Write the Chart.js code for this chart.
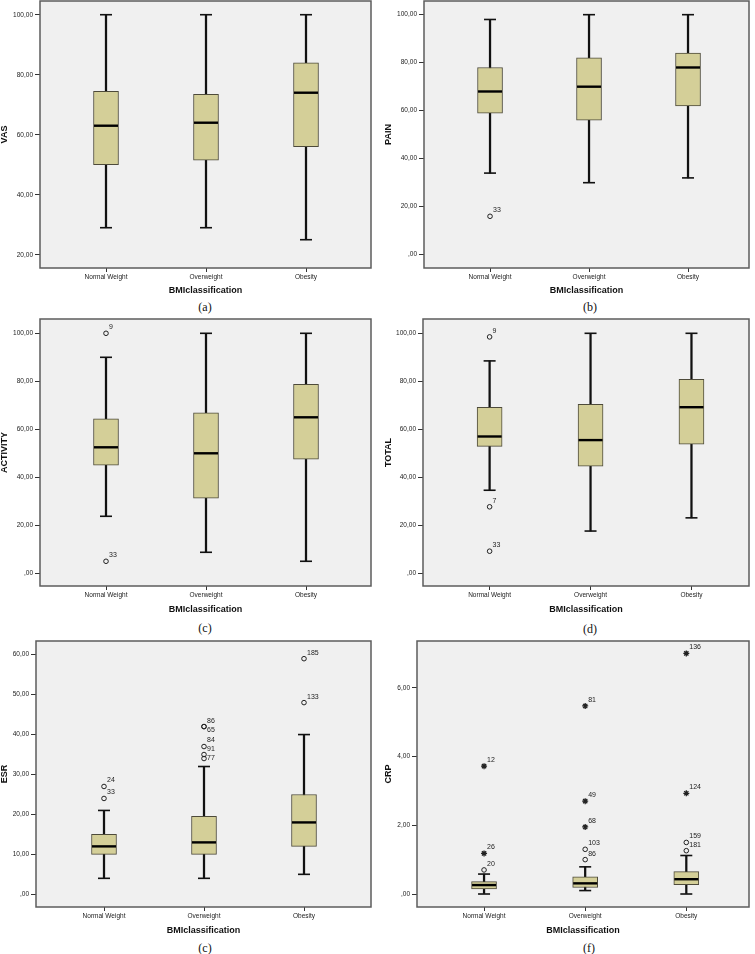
<!DOCTYPE html>
<html>
<head>
<meta charset="utf-8">
<script src="https://cdn.jsdelivr.net/npm/chart.js@4.4.1/dist/chart.umd.min.js"></script>
<style>
  body { margin: 0; background: #fff; width: 755px; height: 954px; position: relative; overflow: hidden; }
  canvas { position: absolute; }
  .cap { position: absolute; width: 60px; margin-left: -30px; text-align: center; font: 12px "Liberation Serif", serif; color: #111; line-height: 12px; margin-top: -6px; }
</style>
</head>
<body>
<script>
const categories = ['Normal Weight', 'Overweight', 'Obesity'];

// VAS
const vasLow = [29, 29, 25];
const vasQ1 = [50, 51.5, 56];
const vasMed = [63, 64, 74];
const vasQ3 = [74.5, 73.5, 84];
const vasHigh = [100, 100, 100];
const vasOutliers = [];
const vasTicks = [20, 40, 60, 80, 100];

// PAIN
const painLow = [34, 30, 32];
const painQ1 = [59, 56, 62];
const painMed = [68, 70, 78];
const painQ3 = [78, 82, 84];
const painHigh = [98, 100, 100];
const painOutliers = [[0, 16, '33', 'o']];
const painTicks = [0, 20, 40, 60, 80, 100];

// ACTIVITY
const actLow = [23.75, 8.75, 5];
const actQ1 = [45, 31.25, 47.5];
const actMed = [52.5, 50, 65];
const actQ3 = [64.4, 66.9, 78.75];
const actHigh = [90, 100, 100];
const actOutliers = [[0, 100, '9', 'o'], [0, 5, '33', 'o']];
const actTicks = [0, 20, 40, 60, 80, 100];

// TOTAL
const totLow = [34.6, 17.6, 23.1];
const totQ1 = [52.9, 44.6, 53.8];
const totMed = [57, 55.5, 69.2];
const totQ3 = [69.2, 70.4, 80.8];
const totHigh = [88.5, 100, 100];
const totOutliers = [[0, 98.5, '9', 'o'], [0, 27.7, '7', 'o'], [0, 9.2, '33', 'o']];
const totTicks = [0, 20, 40, 60, 80, 100];

// ESR
const esrLow = [4, 4, 5];
const esrQ1 = [10, 10, 12];
const esrMed = [12, 13, 18];
const esrQ3 = [15, 19.5, 25];
const esrHigh = [21, 32, 40];
const esrOutliers = [[0, 27, '24', 'o'], [0, 24, '33', 'o'], [1, 42, '86', 'o'], [1, 42, '65', 'o'],
    [1, 37, '84', 'o'], [1, 35, '91', 'o'], [1, 34, '77', 'o'], [2, 59, '185', 'o'], [2, 48, '133', 'o']];
const esrTicks = [0, 10, 20, 30, 40, 50, 60];

// CRP
const crpLow = [0, 0.1, 0];
const crpQ1 = [0.15, 0.19, 0.27];
const crpMed = [0.26, 0.31, 0.43];
const crpQ3 = [0.36, 0.5, 0.65];
const crpHigh = [0.58, 0.79, 1.12];
const crpOutliers = [[0, 3.72, '12', '*'], [0, 1.18, '26', '*'], [0, 0.7, '20', 'o'],
    [1, 5.47, '81', '*'], [1, 2.7, '49', '*'], [1, 1.95, '68', '*'], [1, 1.3, '103', 'o'], [1, 1.0, '86', 'o'],
    [2, 7.0, '136', '*'], [2, 2.93, '124', '*'], [2, 1.5, '159', 'o'], [2, 1.26, '181', 'o']];
const crpTicks = [0, 2, 4, 6];

// Panel yerleşimi (sayfa pikselleri)
const panels = [
    { title: 'VAS', caption: '(a)', low: vasLow, q1: vasQ1, med: vasMed, q3: vasQ3, high: vasHigh, outliers: vasOutliers, ticks: vasTicks,
      frame: [40, 1, 371, 268], yRange: [15.57, 104.57], xRange: [-0.66, 2.65], yTitleX: 5, xTitleY: 291, capPos: [205, 307] },
    { title: 'PAIN', caption: '(b)', low: painLow, q1: painQ1, med: painMed, q3: painQ3, high: painHigh, outliers: painOutliers, ticks: painTicks,
      frame: [424, 1, 749, 268], yRange: [-5.54, 105.7], xRange: [-0.667, 2.616], yTitleX: 389, xTitleY: 291, capPos: [590, 307] },
    { title: 'ACTIVITY', caption: '(c)', low: actLow, q1: actQ1, med: actMed, q3: actQ3, high: actHigh, outliers: actOutliers, ticks: actTicks,
      frame: [40, 319, 371, 586], yRange: [-5.3, 105.96], xRange: [-0.66, 2.65], yTitleX: 5, xTitleY: 610, capPos: [205, 628] },
    { title: 'TOTAL', caption: '(d)', low: totLow, q1: totQ1, med: totMed, q3: totQ3, high: totHigh, outliers: totOutliers, ticks: totTicks,
      frame: [423, 319, 749, 586], yRange: [-5.3, 105.96], xRange: [-0.66, 2.57], yTitleX: 389, xTitleY: 610, capPos: [590, 629] },
    { title: 'ESR', caption: '(c)', low: esrLow, q1: esrQ1, med: esrMed, q3: esrQ3, high: esrHigh, outliers: esrOutliers, ticks: esrTicks,
      frame: [36, 641, 371, 907], yRange: [-3.18, 63.43], xRange: [-0.68, 2.67], yTitleX: 5, xTitleY: 931, capPos: [205, 948] },
    { title: 'CRP', caption: '(f)', low: crpLow, q1: crpQ1, med: crpMed, q3: crpQ3, high: crpHigh, outliers: crpOutliers, ticks: crpTicks,
      frame: [417, 641, 749, 907], yRange: [-0.378, 7.36], xRange: [-0.663, 2.62], yTitleX: 389, xTitleY: 931, capPos: [589, 948] }
];

// 100 -> "100,00", 0 -> ",00"
function fmt(v) {
    const s = v.toFixed(2).replace('.', ',');
    return s.startsWith('0,') ? s.slice(1) : s;
}

const tickFont = { family: 'Liberation Sans', size: 6.5 };
const titleFont = { family: 'Liberation Sans', size: 9, weight: 'bold', lineHeight: 1 };

function makePanel(p) {
    const [fl, ft, fr, fb] = p.frame;
    const cx = p.yTitleX - 5;
    const cy = ft - 10;
    const cw = fr + 6 - cx;
    const xAxisH = p.xTitleY + 8 - fb;
    const ch = fb + xAxisH - cy;

    const canvas = document.createElement('canvas');
    canvas.width = cw;
    canvas.height = ch;
    canvas.style.left = cx + 'px';
    canvas.style.top = cy + 'px';
    document.body.appendChild(canvas);

    const cap = document.createElement('div');
    cap.className = 'cap';
    cap.textContent = p.caption;
    cap.style.left = p.capPos[0] + 'px';
    cap.style.top = p.capPos[1] + 'px';
    document.body.appendChild(cap);

    const idx = categories.map((c, i) => i);

    // Gri arka plan ve çerçeve
    const frame = {
        id: 'frame',
        beforeDraw(chart) {
            const a = chart.chartArea;
            chart.ctx.save();
            chart.ctx.fillStyle = '#f0f0f0';
            chart.ctx.fillRect(a.left, a.top, a.width, a.height);
            chart.ctx.restore();
        },
        afterDatasetsDraw(chart) {
            const a = chart.chartArea;
            const ctx = chart.ctx;
            ctx.save();
            ctx.strokeStyle = '#5c5c5c';
            ctx.lineWidth = 1.5;
            ctx.strokeRect(a.left, a.top, a.width, a.height);
            ctx.restore();
        }
    };

    // Aykırı değer etiketleri (üst üste binmesin)
    const outlierLabels = {
        id: 'outlierLabels',
        afterDatasetsDraw(chart) {
            const meta = chart.getDatasetMeta(1);
            const ctx = chart.ctx;
            ctx.save();
            ctx.font = '7px "Liberation Sans"';
            ctx.fillStyle = '#222';
            ctx.textBaseline = 'middle';
            const lastY = {};
            const order = p.outliers.map((o, i) => i).sort((a, b) => meta.data[a].y - meta.data[b].y);
            order.forEach(i => {
                const pt = meta.data[i];
                const c = p.outliers[i][0];
                let y = pt.y - 6;
                if (lastY[c] !== undefined) y = Math.max(y, lastY[c] + 9);
                lastY[c] = y;
                ctx.fillText(p.outliers[i][2], pt.x + 3, y);
            });
            ctx.restore();
        }
    };

    new Chart(canvas, {
        type: 'bar',
        data: {
            datasets: [{
                type: 'scatter',
                label: 'median',
                data: idx.map(i => ({ x: i, y: p.med[i] })),
                pointStyle: 'line',
                radius: 12,
                borderColor: '#000',
                borderWidth: 2.4,
                order: 0
            }, {
                type: 'scatter',
                label: 'outliers',
                data: p.outliers.map(o => ({ x: o[0], y: o[1] })),
                pointStyle: p.outliers.map(o => o[3] === '*' ? 'star' : 'circle'),
                radius: p.outliers.map(o => o[3] === '*' ? 3 : 2.3),
                backgroundColor: 'rgba(0,0,0,0)',
                borderColor: '#222',
                borderWidth: p.outliers.map(o => o[3] === '*' ? 1.3 : 1),
                order: 1
            }, {
                type: 'scatter',
                label: 'caps',
                data: idx.map(i => ({ x: i, y: p.low[i] })).concat(idx.map(i => ({ x: i, y: p.high[i] }))),
                pointStyle: 'line',
                radius: 6,
                borderColor: '#111',
                borderWidth: 1.6,
                order: 2
            }, {
                type: 'bar',
                label: 'box',
                data: idx.map(i => ({ x: i, y: [p.q1[i], p.q3[i]] })),
                backgroundColor: '#d4cf98',
                borderColor: '#4d4a3a',
                borderWidth: 1,
                borderSkipped: false,
                barThickness: 25,
                grouped: false,
                order: 3
            }, {
                type: 'bar',
                label: 'whisker',
                data: idx.map(i => ({ x: i, y: [p.low[i], p.high[i]] })),
                backgroundColor: '#111',
                borderWidth: 0,
                barThickness: 1.6,
                grouped: false,
                order: 4
            }]
        },
        options: {
            responsive: false,
            animation: false,
            layout: { autoPadding: false, padding: { top: 10, right: 6, left: 0, bottom: 0 } },
            plugins: { legend: { display: false }, tooltip: { enabled: false } },
            scales: {
                x: {
                    type: 'linear',
                    min: p.xRange[0],
                    max: p.xRange[1],
                    offset: false,
                    bounds: 'data',
                    afterBuildTicks: s => { s.ticks = idx.map(v => ({ value: v })); },
                    afterFit: s => { s.height = xAxisH; },
                    ticks: { autoSkip: false, maxRotation: 0, padding: 1, color: '#222', font: tickFont, callback: v => categories[v] },
                    grid: { offset: false, drawOnChartArea: false, drawTicks: true, tickLength: 4, tickColor: '#333', tickWidth: 1 },
                    border: { display: false },
                    title: { display: true, text: 'BMIclassification', color: '#111', font: titleFont, padding: { top: 0, bottom: 3.5 } }
                },
                y: {
                    type: 'linear',
                    min: p.yRange[0],
                    max: p.yRange[1],
                    bounds: 'data',
                    afterBuildTicks: s => { s.ticks = p.ticks.map(v => ({ value: v })); },
                    afterFit: s => { s.width = fl - cx; },
                    ticks: { padding: 2, color: '#222', font: tickFont, callback: v => fmt(v) },
                    grid: { drawOnChartArea: false, drawTicks: true, tickLength: 5, tickColor: '#333', tickWidth: 1 },
                    border: { display: false },
                    title: { display: true, text: p.title, color: '#111', font: titleFont, padding: { top: 0.5, bottom: 0 } }
                }
            }
        },
        plugins: [frame, outlierLabels]
    });
}

panels.forEach(makePanel);
</script>
</body>
</html>
